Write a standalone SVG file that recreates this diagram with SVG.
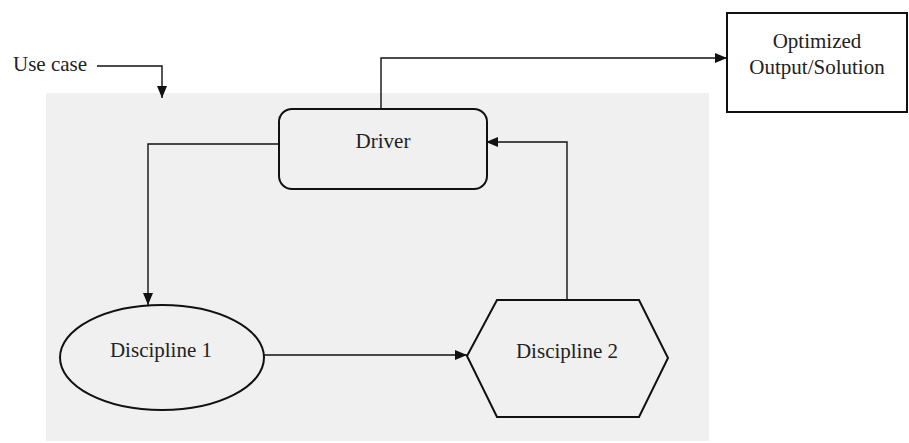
<svg xmlns="http://www.w3.org/2000/svg" width="909" height="443" viewBox="0 0 909 443">
<style>
  .t{font-family:"Liberation Serif","Times New Roman",serif;font-size:21px;fill:#222;text-anchor:middle}
  .shape{fill:none;stroke:#111;stroke-width:2}
  .con{fill:none;stroke:#111;stroke-width:1.4}
</style>
<defs>
  <marker id="arr" viewBox="0 0 12 10" refX="12" refY="5" markerWidth="12" markerHeight="10" markerUnits="userSpaceOnUse" orient="auto">
    <path d="M0,0 L12,5 L0,10 z" fill="#111"/>
  </marker>
</defs>
<rect x="0" y="0" width="909" height="443" fill="#fff"/>
<rect id="background" x="46" y="93" width="663" height="348" fill="#f0f0f0"/>
<g id="usecase">
  <text class="t" x="50" y="71">Use case</text>
</g>
<g id="output">
  <rect class="shape" x="727" y="13" width="180" height="99"/>
  <text class="t" x="817" y="48">Optimized</text>
  <text class="t" x="817" y="74">Output/Solution</text>
</g>
<g id="driver">
  <rect class="shape" x="279" y="109" width="208" height="80" rx="13" ry="13"/>
  <text class="t" x="383" y="148">Driver</text>
</g>
<g id="discipline1">
  <ellipse class="shape" cx="162" cy="357.5" rx="102" ry="52.5"/>
  <text class="t" x="161" y="357">Discipline 1</text>
</g>
<g id="discipline2">
  <polygon class="shape" points="497,300 639,300 668,358 639,417 497,417 467,356"/>
  <text class="t" x="567" y="358">Discipline 2</text>
</g>
<g id="connectors">
  <path class="con" d="M97,66 H162 V98" marker-end="url(#arr)"/>
  <path class="con" d="M381,109 V58 H727" marker-end="url(#arr)"/>
  <path class="con" d="M279,144 H148 V305" marker-end="url(#arr)"/>
  <path class="con" d="M264,355 H467" marker-end="url(#arr)"/>
  <path class="con" d="M567,300 V142 H486" marker-end="url(#arr)"/>
</g>
</svg>
